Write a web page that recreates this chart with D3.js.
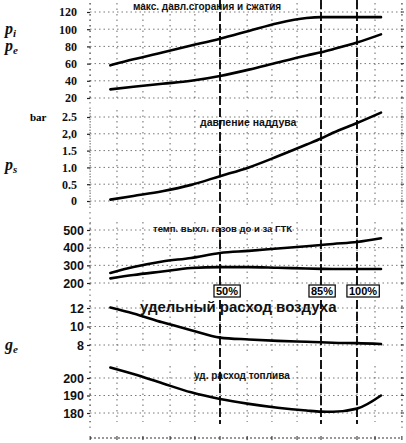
<!DOCTYPE html>
<html><head><meta charset="utf-8">
<script src="https://cdn.jsdelivr.net/npm/d3@7"></script>
<style>html,body{margin:0;padding:0;background:#fff;}svg{display:block;}</style>
</head><body>
<script>
// ---- data (x = engine load, %) ----
const loadPct  = [12, 20, 30, 40, 50, 60, 70, 80, 85, 90, 100, 110];
const pMax     = [58, 65, 73, 81, 89, 98, 107, 113, 114, 114, 114, 114];      // max. combustion pressure
const pComp    = [30, 33, 36.5, 40, 45.6, 53, 61.4, 69.5, 73.2, 76.8, 84.5, 94];  // compression pressure
const pBoost   = [0.04, 0.15, 0.29, 0.48, 0.74, 1.0, 1.33, 1.68, 1.86, 2.03, 2.32, 2.63];
const tBefore  = [257, 290, 322, 342, 370, 382, 395, 408, 415, 421, 432, 453];
const tAfter   = [226, 245, 265, 285, 290, 290, 286, 282, 280, 279, 279, 279];
const airCons  = [12.05, 11.4, 10.45, 9.6, 8.8, 8.6, 8.45, 8.35, 8.3, 8.25, 8.2, 8.1];
const fuelCons = [206, 202.3, 197, 191.8, 188, 185.2, 183, 181.4, 180.8, 180.7, 182.5, 190];

const ticksP1 = [20, 40, 60, 80, 100, 120];
const ticksP2 = [0, 0.5, 1, 1.5, 2, 2.5];
const labelsP2 = ["0", "0.5", "1.0", "1.5", "2,0", "2.5"];
const ticksP3 = [200, 300, 400, 500];
const ticksP4 = [8, 10, 12];
const ticksP5 = [180, 190, 200];
const markLoads = [50, 85, 100];
const markLabels = ["50%", "85%", "100%"];
const gridLoads = [5, 14.3, 23.3, 32.7, 41.3, 50, 59.4, 68, 76.7, 85, 100, 107.5, 118.7];

const titles = ["макс. давл.сгорания и сжатия", "давление наддува", "темп. выхл. газов до и за ГТК", "удельный расход воздуха", "уд. расход топлива"];

// ---- layout ----
const W = 406, H = 443;
const svg = d3.select("body").append("svg").attr("width", W).attr("height", H);
const x = d3.scaleLinear().domain([50, 85, 100]).range([220, 321, 357]);
const xL = 90, xR = 402;

const panels = [
  {y: d3.scaleLinear().domain([20,120]).range([98,12]), top: 3, bot: 102, ticks: ticksP1, fmt: d=>String(d), series:[pMax,pComp], pad: 10, serif: true,
   title: {t: titles[0], x: 133, y: 10, size: 10}},
  {y: d3.scaleLinear().domain([0,2.5]).range([201,117]), top: 110, bot: 206, ticks: ticksP2, fmt: (d,i)=>labelsP2[i], series:[pBoost], pad: 10, serif: true,
   title: {t: titles[1], x: 200, y: 126, size: 10.5}},
  {y: d3.scaleLinear().domain([200,500]).range([283,230]), top: 222, bot: 288, ticks: ticksP3, fmt: d=>String(d), series:[tBefore,tAfter], pad: 3,
   title: {t: titles[2], x: 153, y: 232, size: 9.5}},
  {y: d3.scaleLinear().domain([8,12]).range([345,308]), top: 300, bot: 352, ticks: ticksP4, fmt: d=>String(d), series:[airCons], pad: 3,
   title: {t: titles[3], x: 140, y: 312, size: 15}},
  {y: d3.scaleLinear().domain([180,200]).range([413,378]), top: 366, bot: 422, ticks: ticksP5, fmt: d=>String(d), series:[fuelCons], pad: 3,
   title: {t: titles[4], x: 194, y: 379, size: 10}}
];

const gridCol = "#555";

panels.forEach(p => {
  const g = svg.append("g");
  g.selectAll("line.h").data(p.ticks).join("line")
    .attr("x1", xL).attr("x2", xR).attr("y1", d=>p.y(d)).attr("y2", d=>p.y(d))
    .attr("stroke", gridCol).attr("stroke-width", 0.8).attr("stroke-dasharray", "1.5,3");
  g.selectAll("line.v").data(gridLoads).join("line")
    .attr("x1", d=>x(d)).attr("x2", d=>x(d)).attr("y1", p.top).attr("y2", p.bot)
    .attr("stroke", gridCol).attr("stroke-width", 0.9).attr("stroke-dasharray", "1.5,4");
  const ax = d3.axisLeft(p.y).tickValues(p.ticks).tickFormat(p.fmt).tickSize(3).tickPadding(p.pad);
  const ag = svg.append("g").attr("transform", `translate(${xL},0)`).call(ax);
  ag.select(".domain").remove();
  ag.selectAll(".tick line").attr("stroke", "#222").attr("stroke-width", 1.2);
  ag.selectAll(".tick text")
    .attr("font-family", p.serif ? "Liberation Serif" : "Liberation Sans")
    .attr("font-weight", "bold").attr("font-size", p.serif ? 12 : 12.5).attr("fill", "#111");
  g.selectAll("line.r").data(p.ticks).join("line")
    .attr("x1", xR-1).attr("x2", xR+2).attr("y1", d=>p.y(d)).attr("y2", d=>p.y(d))
    .attr("stroke", "#333").attr("stroke-width", 1);
  svg.append("text").attr("x", p.title.x).attr("y", p.title.y)
    .attr("font-family", "Liberation Sans").attr("font-weight", "bold")
    .attr("font-size", p.title.size).attr("fill", "#111").text(p.title.t);
  const line = d3.line().x((d,i)=>x(loadPct[i])).y(d=>p.y(d)).curve(d3.curveMonotoneX);
  p.series.forEach(s => {
    svg.append("path").attr("d", line(s)).attr("fill", "none")
      .attr("stroke", "#000").attr("stroke-width", 2.6).attr("stroke-linecap", "round");
  });
});

[xL, xR].forEach(xx => {
  svg.append("line").attr("x1", xx).attr("x2", xx).attr("y1", 3).attr("y2", 430)
    .attr("stroke", gridCol).attr("stroke-width", 0.9).attr("stroke-dasharray", "1.5,4");
});

svg.selectAll("line.mark").data(markLoads).join("line")
  .attr("x1", d=>x(d)).attr("x2", d=>x(d)).attr("y1", 0).attr("y2", 424)
  .attr("stroke", "#000").attr("stroke-width", 1.8).attr("stroke-dasharray", "9,3");

// percentage boxes
markLoads.forEach((m, i) => {
  const bg = svg.append("g");
  const rect = bg.append("rect");
  const t = bg.append("text").attr("x", x(m) + (i===0 ? 7 : i===2 ? 6 : 1)).attr("y", 295)
    .attr("text-anchor", "middle").attr("font-family", "Liberation Sans").attr("font-weight", "bold")
    .attr("font-size", 11).attr("fill", "#000").text(markLabels[i]);
  const bb = t.node().getBBox();
  rect.attr("x", bb.x - 2).attr("y", bb.y).attr("width", bb.width + 4).attr("height", bb.height)
    .attr("fill", "#fff").attr("stroke", "#000").attr("stroke-width", 1.2);
});

const bottomY = 438;
svg.append("line").attr("x1", xL).attr("x2", xR).attr("y1", bottomY).attr("y2", bottomY)
  .attr("stroke", "#333").attr("stroke-width", 1).attr("stroke-dasharray", "2,2");
svg.selectAll("line.bt").data(gridLoads).join("line")
  .attr("x1", d=>x(d)).attr("x2", d=>x(d)).attr("y1", bottomY-2).attr("y2", bottomY+2)
  .attr("stroke", "#222").attr("stroke-width", 1);

svg.append("text").attr("x", 30).attr("y", 121).attr("font-family", "Liberation Serif")
  .attr("font-weight", "bold").attr("font-size", 11).text("bar");

const sym = [["p","i",34],["p","e",51],["p","s",170],["g","e",350]];
sym.forEach(s => {
  const t = svg.append("text").attr("x", 5).attr("y", s[2]).attr("font-family", "Liberation Serif")
    .attr("font-style", "italic").attr("font-weight", "bold").attr("font-size", 16).attr("fill", "#111");
  t.append("tspan").text(s[0]);
  t.append("tspan").attr("dy", 3).attr("font-size", 11).text(s[1]);
});
</script>
</body></html>
